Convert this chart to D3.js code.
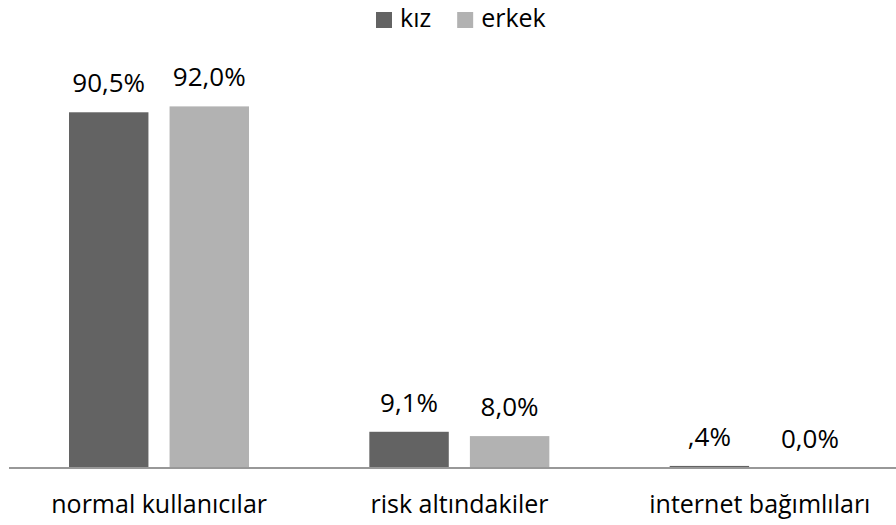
<!DOCTYPE html>
<html>
<head>
<meta charset="utf-8">
<script src="https://cdn.jsdelivr.net/npm/d3@7"></script>
<style>
	body { margin: 0; background: #fff; }
	text { font-family: "Open Sans", sans-serif; fill: #000; }
</style>
</head>
<body>
<div id="chart"></div>
<script>
var categories = ["normal kullanıcılar", "risk altındakiler", "internet bağımlıları"];
var seriesNames = ["kız", "erkek"];
var kiz = [90.5, 9.1, 0.4];
var erkek = [92.0, 8.0, 0.0];
var colors = ["#636363", "#b2b2b2"];

var width = 896, height = 525;
var svg = d3.select("#chart").append("svg")
	.attr("width", width)
	.attr("height", height);

var x0 = d3.scaleBand().domain(categories).range([9, 910]).paddingInner(0).paddingOuter(0);
var x1 = d3.scaleBand().domain(seriesNames).range([60, 240]).paddingInner(0.21);
var y = d3.scaleLinear().domain([0, 100]).range([467.5, 75]);

// turkish excel style: comma decimal, no leading zero under 1
function fmt(v) {
	var s = v.toFixed(1).replace(".", ",");
	if (v > 0 && v < 1) s = s.replace(/^0/, "");
	return s + "%";
}

var rows = categories.map(function (c, i) {
	return { cat: c, vals: [{ s: "kız", v: kiz[i] }, { s: "erkek", v: erkek[i] }] };
});

var groups = svg.selectAll("g.grp")
	.data(rows)
	.enter().append("g")
	.attr("class", "grp")
	.attr("transform", function (d) { return "translate(" + x0(d.cat) + ",0)"; });

groups.selectAll("rect")
	.data(function (d) { return d.vals; })
	.enter().append("rect")
	.attr("x", function (d) { return x1(d.s); })
	.attr("width", x1.bandwidth())
	.attr("y", function (d) { return y(d.v); })
	.attr("height", function (d) { return y(0) - y(d.v); })
	.style("fill", function (d, i) { return colors[i]; });

groups.selectAll("text.val")
	.data(function (d) { return d.vals; })
	.enter().append("text")
	.attr("class", "val")
	.attr("x", function (d) { return x1(d.s) + x1.bandwidth() / 2; })
	.attr("y", function (d) { return y(d.v) - 20; })
	.attr("text-anchor", "middle")
	.style("font-size", "26px")
	.text(function (d) { return fmt(d.v); });

// axis line
svg.append("line")
	.attr("x1", 9).attr("x2", width)
	.attr("y1", y(0) + 0.5).attr("y2", y(0) + 0.5)
	.style("stroke", "#989898")
	.style("stroke-width", 2);

svg.selectAll("text.cat")
	.data(categories)
	.enter().append("text")
	.attr("class", "cat")
	.attr("x", function (d) { return x0(d) + x0.bandwidth() / 2; })
	.attr("y", 513)
	.attr("text-anchor", "middle")
	.style("font-size", "25px")
	.text(function (d) { return d; });

// legend
var legend = svg.append("g").attr("transform", "translate(376,0)");
var lx = 0;
seriesNames.forEach(function (n, i) {
	legend.append("rect")
		.attr("x", lx).attr("y", 12)
		.attr("width", 16).attr("height", 16)
		.style("fill", colors[i]);
	var t = legend.append("text")
		.attr("x", lx + 24).attr("y", 27)
		.style("font-size", "25px")
		.text(n);
	lx += 24 + t.node().getComputedTextLength() + 26;
});
</script>
</body>
</html>
